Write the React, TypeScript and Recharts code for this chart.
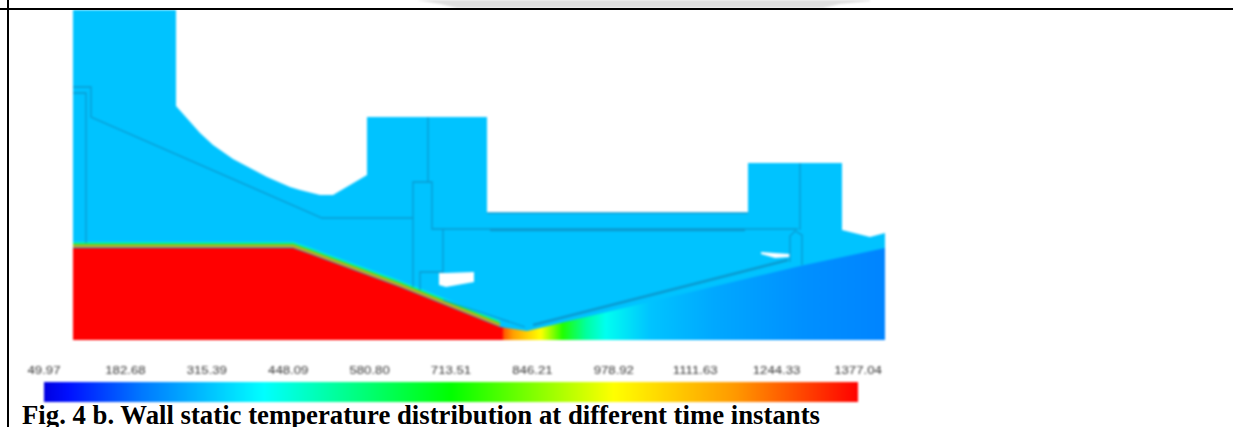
import { Area, ComposedChart, Line, XAxis, YAxis } from 'recharts'

// nozzle section, distance along x and height above the base line
const solidTop = [[0, 330], [103, 330], [103, 234], [127, 207], [140, 195], [160, 181], [177, 172], [194, 163], [217, 153], [227, 150], [247, 145], [260, 145], [294, 165], [294, 223], [414, 223], [414, 127], [675, 127], [675, 177], [769, 177], [769, 110], [797, 103], [812, 107]]
const gasWall = [[0, 92], [220, 92], [237, 86], [327, 53], [427, 13], [454, 9], [467, 12], [727, 74], [812, 92]]
const hotEdge = [[0, 92], [220, 92], [237, 86], [327, 53], [427, 13]]
const cavityA = [[366, 55, 67], [373, 53, 67], [401, 58, 68]]
const cavityB = [[688, 86, 88], [702, 82, 87], [717, 83, 86]]
const smudge = [[344, 340], [367, 336], [384, 332], [750, 332], [767, 336], [797, 339]]

const joints = [
  [[0, 253], [18, 253], [18, 223], [249, 122], [340, 122]],
  [[0, 247], [13, 247], [13, 97]],
  [[340, 53], [340, 158], [359, 158], [359, 111], [725, 111]],
  [[355, 223], [355, 158]],
  [[370, 111], [370, 68], [347, 68], [347, 50]],
  [[414, 127], [675, 127]],
  [[727, 177], [727, 110]],
  [[717, 78], [717, 104], [722, 109], [729, 105], [729, 75]],
  [[370, 40], [452, 13]],
]
const thickJoints = [
  [[417, 110], [672, 110]],
  [[460, 15], [715, 80]],
]

const tempTicks = [49.97, 182.68, 315.39, 448.09, 580.8, 713.51, 846.21, 978.92, 1111.63, 1244.33, 1377.04]
const scaleBar = [{ t: 49.97, v: 1 }, { t: 1377.04, v: 1 }]

const toXY = (list: number[][]) => list.map(([x, y]) => ({ x, y }))
const toBand = (list: number[][]) => list.map(([x, lo, hi]) => ({ x, band: [lo, hi] }))

const TempTick = ({ x, y, payload }: any) => (
  <text
    transform={`translate(${x},${y}) scale(1.32,1)`}
    textAnchor="middle"
    fontFamily="Liberation Sans"
    fontSize={10}
    fill="#333333"
  >
    {payload.value.toFixed(2)}
  </text>
)

function Contour() {
  return (
    <ComposedChart
      width={1233}
      height={427}
      margin={{ top: 0, right: 348, bottom: 87, left: 73 }}
      style={{ position: 'absolute', left: 0, top: 0 }}
    >
      <defs>
        <linearGradient id="wallTemp" x1="0" y1="0" x2="1" y2="0">
          <stop offset="0.528" stopColor="#ff0000" />
          <stop offset="0.531" stopColor="#ff5a00" />
          <stop offset="0.542" stopColor="#ffa000" />
          <stop offset="0.576" stopColor="#ffff00" />
          <stop offset="0.603" stopColor="#20ff00" />
          <stop offset="0.632" stopColor="#00ffa0" />
          <stop offset="0.656" stopColor="#00fff0" />
          <stop offset="0.71" stopColor="#00c4ff" />
          <stop offset="0.79" stopColor="#00a8ff" />
          <stop offset="0.9" stopColor="#0090ff" />
          <stop offset="1" stopColor="#0084ff" />
        </linearGradient>
      </defs>
      <XAxis type="number" dataKey="x" domain={[0, 812]} allowDataOverflow hide />
      <YAxis type="number" domain={[0, 340]} allowDataOverflow hide />
      <Area data={toXY(smudge)} dataKey={(d: any) => [d.y, 340]} stroke="none" fill="#dfdfdf" fillOpacity={1} dot={false} activeDot={false} isAnimationActive={false} />
      <Area data={toXY(solidTop)} dataKey="y" stroke="none" fill="#00c3ff" fillOpacity={1} dot={false} activeDot={false} isAnimationActive={false} />
      <Line data={toXY(hotEdge)} dataKey={(d: any) => d.y + 5.5} stroke="#00e8e8" strokeWidth={2} dot={false} activeDot={false} isAnimationActive={false} />
      <Line data={toXY(hotEdge)} dataKey={(d: any) => d.y + 4} stroke="#30f020" strokeWidth={1.5} dot={false} activeDot={false} isAnimationActive={false} />
      <Line data={toXY(hotEdge)} dataKey={(d: any) => d.y + 2} stroke="#e8a000" strokeWidth={2} dot={false} activeDot={false} isAnimationActive={false} />
      <Area data={toXY(gasWall)} dataKey="y" stroke="none" fill="url(#wallTemp)" fillOpacity={1} dot={false} activeDot={false} isAnimationActive={false} />
      <Area data={toBand(cavityA)} dataKey="band" stroke="none" fill="#ffffff" fillOpacity={1} dot={false} activeDot={false} isAnimationActive={false} />
      <Area data={toBand(cavityB)} dataKey="band" stroke="none" fill="#ffffff" fillOpacity={1} dot={false} activeDot={false} isAnimationActive={false} />
      {joints.map((j, i) => (
        <Line key={i} data={toXY(j)} dataKey="y" stroke="#0a9ad0" strokeWidth={1.3} dot={false} activeDot={false} isAnimationActive={false} />
      ))}
      {thickJoints.map((j, i) => (
        <Line key={'t' + i} data={toXY(j)} dataKey="y" stroke="#0a9ad0" strokeWidth={2.5} dot={false} activeDot={false} isAnimationActive={false} />
      ))}
    </ComposedChart>
  )
}

function TempScale() {
  return (
    <ComposedChart
      data={scaleBar}
      width={1233}
      height={47}
      margin={{ top: 0, right: 375, bottom: 0, left: 44 }}
      style={{ position: 'absolute', left: 0, top: 355 }}
    >
      <defs>
        <linearGradient id="tempRamp" x1="0" y1="0" x2="1" y2="0">
          <stop offset="0" stopColor="#0000e0" />
          <stop offset="0.03" stopColor="#0010ff" />
          <stop offset="0.12" stopColor="#0078ff" />
          <stop offset="0.27" stopColor="#00ffff" />
          <stop offset="0.5" stopColor="#00ff00" />
          <stop offset="0.7" stopColor="#ffff00" />
          <stop offset="0.85" stopColor="#ff9800" />
          <stop offset="1" stopColor="#ff0000" />
        </linearGradient>
      </defs>
      <XAxis
        type="number"
        dataKey="t"
        orientation="top"
        domain={[49.97, 1377.04]}
        ticks={tempTicks}
        interval={0}
        axisLine={false}
        tickLine={false}
        tick={<TempTick />}
        height={27}
      />
      <YAxis type="number" domain={[0, 1]} hide />
      <Area dataKey="v" stroke="none" fill="url(#tempRamp)" fillOpacity={1} dot={false} activeDot={false} isAnimationActive={false} />
    </ComposedChart>
  )
}

export default function App() {
  return (
    <div style={{ position: 'absolute', left: 0, top: 0, width: 1233, height: 427, overflow: 'hidden', background: '#fff' }}>
      <div style={{ position: 'absolute', inset: 0, filter: 'blur(0.8px)' }}>
        <Contour />
        <TempScale />
      </div>
      <div style={{ position: 'absolute', left: 0, top: 8, width: 1233, height: 2, background: '#000' }} />
      <div style={{ position: 'absolute', left: 7, top: 0, width: 2, height: 427, background: '#000' }} />
      <div
        style={{
          position: 'absolute',
          left: 22,
          top: 403,
          fontFamily: 'Liberation Serif',
          fontWeight: 'bold',
          fontSize: 26.75,
          lineHeight: '25px',
          color: '#000',
          whiteSpace: 'nowrap',
        }}
      >
        Fig. 4 b. Wall static temperature distribution at different time instants
      </div>
    </div>
  )
}
